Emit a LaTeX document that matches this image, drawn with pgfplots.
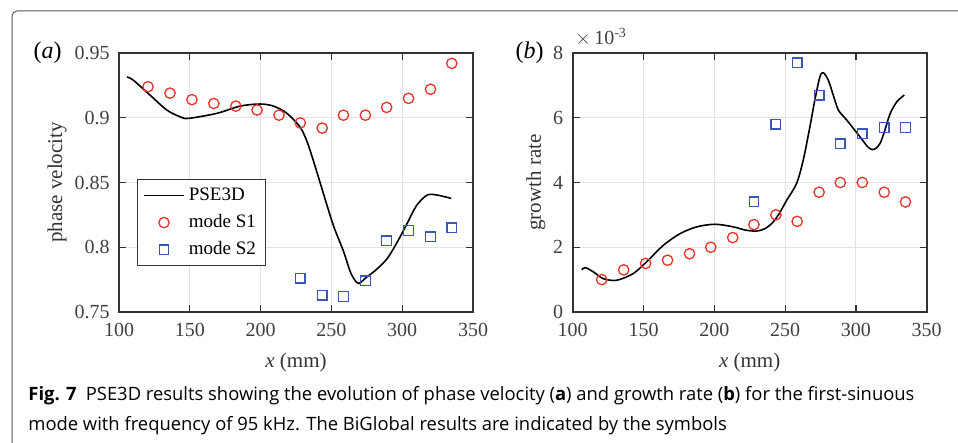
\documentclass[border=0pt]{standalone}
\usepackage{fontspec}
\setmainfont{Liberation Serif}
\newfontfamily\capfont{Open Sans}
\usepackage{pgfplots}
\pgfplotsset{compat=1.18}

\definecolor{mred}{HTML}{E8322A}
\definecolor{mblue}{HTML}{3A57B8}
\definecolor{maxis}{HTML}{333333}
\definecolor{mgrid}{HTML}{E3E3E3}

\pgfplotsset{
  panel/.style={
    scale only axis, width=177pt, height=129.5pt,
    xmin=100, xmax=350, xtick={100,150,...,350},
    axis line style={maxis, line width=0.8pt},
    tick style={maxis, line width=0.6pt},
    major tick length=3.5pt, tick align=inside,
    grid=major, grid style={mgrid, line width=0.5pt},
    /pgf/number format/assume math mode=true,
    ticklabel style={font=\fontsize{10}{12}\selectfont, text=black!75},
    xticklabel style={yshift=-2pt},
    yticklabel style={xshift=-1.2pt},
    xlabel={\textit{x} (mm)},
    label style={font=\fontsize{10.5}{12}\selectfont, text=black!80},
    xlabel style={at={(axis description cs:0.5,-0.193)}, anchor=center},
    legend style={font=\fontsize{9.5}{11}\selectfont, draw=maxis, line width=0.5pt,
      fill=white, inner xsep=3pt, inner ysep=2pt, row sep=1.5pt, cells={anchor=west}},
  },
  pse/.style={black, line width=0.8pt, smooth, no markers,
    legend image code/.code={\draw[##1] (0pt,0pt) -- (20pt,0pt);}},
  s1/.style={only marks, mark=o, mark size=2.6pt, mark options={mred, line width=0.65pt},
    legend image code/.code={\draw[##1] plot coordinates {(10pt,0pt)};}},
  s2/.style={only marks, mark=square, mark size=2.4pt, mark options={mblue, line width=0.65pt},
    legend image code/.code={\draw[##1] plot coordinates {(10pt,0pt)};}},
}

\begin{document}
\begin{tikzpicture}
\useasboundingbox (0pt,0pt) rectangle (479pt,-221.5pt);
\draw[black!65, line width=0.5pt, rounded corners=2.5pt] (6pt,-222pt) -- (6pt,-5.5pt) -- (480pt,-5.5pt);

% (a) phase velocity
\begin{axis}[panel, at={(59.5pt,-156pt)}, anchor=south west,
  ymin=0.75, ymax=0.95, ytick={0.75,0.8,0.85,0.9,0.95},
  yticklabels={0.75,0.8,0.85,0.9,0.95},
  ylabel={phase velocity},
  ylabel style={at={(axis description cs:-0.175,0.5)}, anchor=center},
  legend style={at={(rel axis cs:0.05,0.512)}, anchor=north west}]
\addplot[pse] coordinates {
  (105.7,0.9315) (110.1,0.929) (121.9,0.9175) (133.7,0.906) (143.1,0.9008)
  (149,0.8995) (169.1,0.9034) (185.6,0.909) (199.7,0.9106) (209.1,0.909)
  (218.6,0.9034) (228,0.8926) (233,0.881) (237.5,0.866) (242,0.850)
  (247,0.832) (252,0.815) (258.5,0.797) (263,0.782) (266,0.7755)
  (269.3,0.772) (275.2,0.7772) (282,0.783)
  (289.4,0.7913) (296,0.803) (303.5,0.8184) (310,0.832) (317.6,0.8403)
  (324.7,0.8403) (334.6,0.8377)
};
\addlegendentry{PSE3D}
\addplot[s1] coordinates {
  (120.5,0.924) (136,0.919) (151.5,0.914) (167,0.911) (182.5,0.909)
  (197.5,0.906) (213,0.902) (228,0.896) (243.5,0.892) (258.5,0.902)
  (274,0.902) (289,0.908) (304.5,0.915) (320,0.922) (335,0.942)
};
\addlegendentry{mode S1}
\addplot[s2] coordinates {
  (228,0.776) (243.5,0.763) (258.5,0.762) (274,0.774) (289,0.805)
  (304.5,0.813) (320,0.808) (335,0.815)
};
\addlegendentry{mode S2}
\end{axis}

% (b) growth rate, values in units of 1e-3
\begin{axis}[panel, at={(286.35pt,-156pt)}, anchor=south west,
  ymin=0, ymax=8, ytick={0,2,4,6,8},
  ylabel={growth rate},
  ylabel style={at={(axis description cs:-0.104,0.5)}, anchor=center}]
\addplot[pse] coordinates {
  (106.4,1.31) (108.9,1.37) (114.6,1.24) (121.6,1.03) (131.1,0.98)
  (142.8,1.19) (152.2,1.55) (164,2.06) (175.8,2.42) (187.6,2.63)
  (200.5,2.71) (213.4,2.63) (222,2.53) (229.9,2.5) (236,2.58)
  (241.6,2.78) (246,3.05) (251.1,3.45) (258.1,3.97) (262.8,4.69)
  (267.5,5.72) (271,6.55) (274.6,7.27) (277,7.39) (280.5,7.16)
  (284,6.7) (287.6,6.24) (293.5,5.93) (302.9,5.41) (308,5.12)
  (311.2,5.02) (314,5.05) (317.1,5.21) (320,5.55) (324.2,6.13)
  (329,6.5) (334.2,6.7)
};
\addplot[s1] coordinates {
  (120.5,1.0) (136,1.3) (151.5,1.5) (167,1.6) (182.5,1.8)
  (197.5,2.0) (213,2.3) (228,2.7) (243.5,3.0) (258.5,2.8)
  (274,3.7) (289,4.0) (304.5,4.0) (320,3.7) (335,3.4)
};
\addplot[s2] coordinates {
  (228,3.4) (243.5,5.8) (258.5,7.7) (274,6.7) (289,5.2)
  (304.5,5.5) (320,5.7) (335,5.7)
};
\end{axis}

\node[font=\fontsize{12}{14}\selectfont] at (23.75pt,-26.5pt) {(\textit{a})};
\node[font=\fontsize{12}{14}\selectfont] at (264.75pt,-26.5pt) {(\textit{b})};
\node[anchor=base west, font=\fontsize{10}{12}\selectfont, text=black!75, inner sep=0pt]
  at (287.5pt,-22.5pt) {$\times$\,10\textsuperscript{-3}};

\node[anchor=base west, inner sep=0pt, font=\capfont\fontsize{9.2}{11}\selectfont]
  at (14pt,-200.3pt) {\textbf{Fig. 7}\enspace PSE3D results showing the evolution of phase velocity (\textbf{a}) and growth rate (\textbf{b}) for the first-sinuous};
\node[anchor=base west, inner sep=0pt, font=\capfont\fontsize{9.2}{11}\selectfont]
  at (14pt,-215pt) {mode with frequency of 95 kHz. The BiGlobal results are indicated by the symbols};
\end{tikzpicture}
\end{document}
